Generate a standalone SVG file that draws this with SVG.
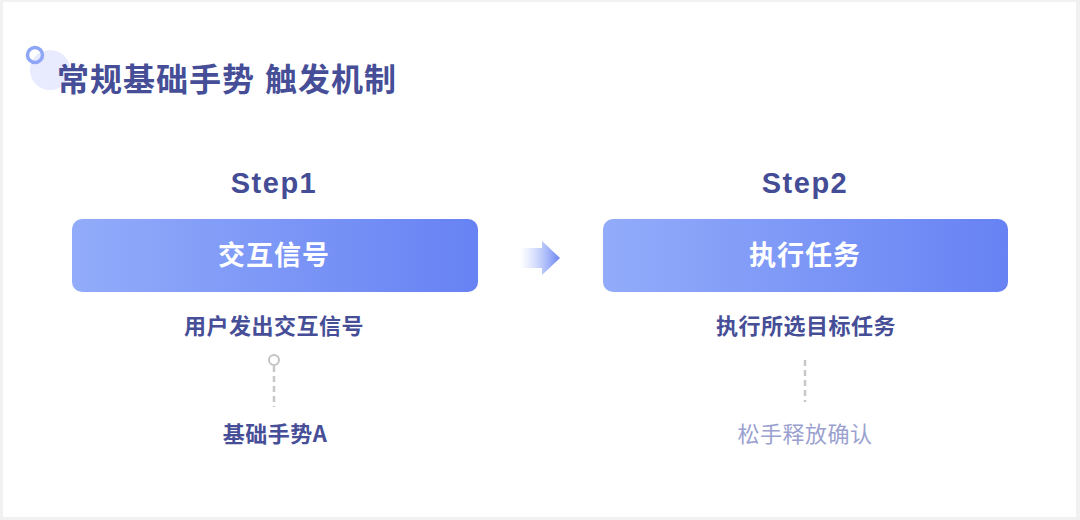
<svg xmlns="http://www.w3.org/2000/svg" width="1080" height="520" viewBox="0 0 1080 520">
  <defs>
    <linearGradient id="boxGrad" x1="0" y1="0" x2="1" y2="0">
      <stop offset="0" stop-color="#92acfa"/>
      <stop offset="1" stop-color="#6782f3"/>
    </linearGradient>
    <linearGradient id="arrowGrad" x1="520" y1="0" x2="560" y2="0" gradientUnits="userSpaceOnUse">
      <stop offset="0" stop-color="#a9bcfb" stop-opacity="0"/>
      <stop offset="1" stop-color="#6a84f3"/>
    </linearGradient>
    <style>
      .cjk { font-family: "Noto Sans CJK SC", "Noto Sans", sans-serif; }
      .title { font-size: 32px; font-weight: bold; fill: #464e97; letter-spacing: 1px; }
      .step { font-family: "Liberation Sans", Arial, sans-serif; font-size: 29px; font-weight: bold; fill: #434c95; letter-spacing: 1.5px; text-anchor: middle; }
      .boxText { font-size: 27px; font-weight: bold; fill: #ffffff; text-anchor: middle; letter-spacing: 1px; }
      .sub { font-size: 22px; font-weight: bold; fill: #464e97; text-anchor: middle; letter-spacing: 0.5px; }
      .subLight { font-size: 22px; font-weight: normal; fill: #9ba1cf; text-anchor: middle; letter-spacing: 0.5px; }
      .box { fill: url(#boxGrad); }
      .dash { stroke: #c8c8c8; stroke-width: 2.5; stroke-dasharray: 6 4; fill: none; }
    </style>
  </defs>

  <rect x="0" y="0" width="1080" height="520" fill="#f1f1f1"/>
  <rect x="3" y="2" width="1073" height="515" fill="#ffffff"/>

  <g id="title">
    <circle cx="50" cy="70" r="20" fill="#e7ebfd"/>
    <circle cx="35" cy="55" r="7.5" fill="none" stroke="#8fa6f6" stroke-width="3.5"/>
    <text class="cjk title" x="57" y="91">常规基础手势</text>
    <text class="cjk title" x="265" y="91">触发机制</text>
  </g>

  <g id="step1">
    <text class="step" x="274" y="193">Step1</text>
    <rect class="box" x="72" y="219" width="406" height="73" rx="10"/>
    <text class="cjk boxText" x="274" y="265">交互信号</text>
    <text class="cjk sub" x="274" y="334">用户发出交互信号</text>
    <text class="cjk sub" x="275" y="442">基础手势A</text>
  </g>

  <g id="step2">
    <text class="step" x="805" y="193">Step2</text>
    <rect class="box" x="603" y="219" width="405" height="73" rx="10"/>
    <text class="cjk boxText" x="805" y="265">执行任务</text>
    <text class="cjk sub" x="806" y="334">执行所选目标任务</text>
    <text class="cjk subLight" x="805" y="442">松手释放确认</text>
  </g>

  <g id="connectors">
    <polygon points="520,248 542,248 542,241 560,258 542,275 542,268 520,268" fill="url(#arrowGrad)"/>
    <circle cx="274" cy="360" r="5" fill="#ffffff" stroke="#c3c3c3" stroke-width="2"/>
    <line class="dash" x1="274" y1="366" x2="274" y2="407"/>
    <line class="dash" x1="805" y1="360" x2="805" y2="402"/>
  </g>
</svg>
